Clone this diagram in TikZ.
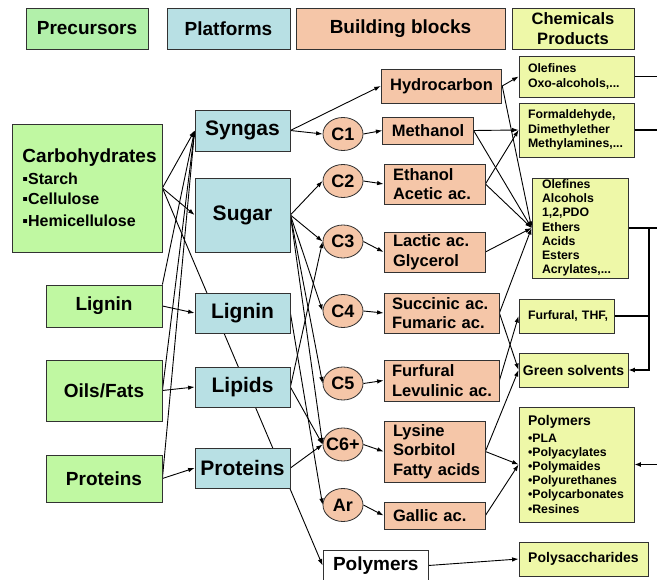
\documentclass[tikz,border=0pt]{standalone}
\usepackage{fontspec}
\setmainfont{Liberation Sans}
\usetikzlibrary{arrows.meta,shapes.geometric,backgrounds}

\definecolor{hdrgreen}{RGB}{178,240,170}
\definecolor{precgreen}{RGB}{192,248,162}
\definecolor{platblue}{RGB}{184,224,228}
\definecolor{blocksalmon}{RGB}{245,198,168}
\definecolor{prodyellow}{RGB}{238,248,168}
\definecolor{boxline}{RGB}{50,50,50}

\newcommand{\fhead}{\fontsize{19}{22}\selectfont\bfseries}
\newcommand{\fchem}{\fontsize{16.5}{20}\selectfont\bfseries}
\newcommand{\fbul}{\fontsize{16}{20}\selectfont\bfseries}
\newcommand{\fplat}{\fontsize{21}{24}\selectfont\bfseries}
\newcommand{\fblock}{\fontsize{16.5}{19.5}\selectfont\bfseries}
\newcommand{\fcirc}{\fontsize{18}{20}\selectfont\bfseries}
\newcommand{\fprod}{\fontsize{12.3}{14.2}\selectfont\bfseries}
\newcommand{\fprodb}{\fontsize{14}{16}\selectfont\bfseries}
\newcommand{\cname}[1]{\makebox[0pt]{#1}}

\tikzset{
	box/.style={draw=boxline, line width=0.8pt, inner sep=1pt},
	hdrbox/.style={box, minimum height=41pt, font=\fhead},
	precbox/.style={box, fill=precgreen, font=\fhead},
	platbox/.style={box, fill=platblue, minimum width=95pt, font=\fplat},
	bbbox/.style={box, fill=blocksalmon, font=\fblock, align=left, inner xsep=9pt},
	bbcirc/.style={ellipse, draw=boxline, line width=0.8pt, fill=blocksalmon, minimum width=40pt, minimum height=33pt, inner sep=0pt, font=\fcirc},
	prodbox/.style={box, fill=prodyellow, font=\fprod, align=left, inner xsep=9pt},
	link/.style={line width=0.9pt, -{Latex[length=6.5pt,width=4.5pt]}},
	rimline/.style={line width=1.4pt},
}

\begin{document}
\begin{tikzpicture}[x=1pt, y=-1pt]
			\useasboundingbox (0,0) rectangle (657,580);
			
			%%%%% HEADERS %%%%%
			\node[hdrbox, fill=hdrgreen, minimum width=122pt] (hprec) at (87, 28.5) {Precursors};
			\node[hdrbox, fill=platblue, minimum width=123pt] (hplat) at (228.5, 28.5) {Platforms};
			\node[hdrbox, fill=blocksalmon, minimum width=209pt] (hbb) at (400.5, 28.5) {Building blocks};
			\node[hdrbox, fill=prodyellow, minimum width=122pt, font=\fchem, align=center] (hchem) at (573, 28.5) {Chemicals\\Products};
			
			%%%%% PRECURSORS %%%%%
			\node[precbox, align=left, text width=129pt, inner xsep=10.5pt, minimum height=128pt] (carb) at (87, 188) {Carbohydrates\\[2pt]\fbul ▪Starch\\\fbul ▪Cellulose\\\fbul ▪Hemicellulose};
			\node[precbox, minimum width=116pt, minimum height=42pt] (lignp) at (104, 306) {Lignin};
			\node[precbox, minimum width=116pt, minimum height=61pt] (oils) at (104, 390.5) {Oils/Fats};
			\node[precbox, minimum width=116pt, minimum height=47pt] (protp) at (104, 478.5) {Proteins};
			
			%%%%% PLATFORMS %%%%%
			\node[platbox, minimum height=41pt] (syngas) at (242.5, 130.5) {Syngas};
			\node[platbox, minimum height=74pt] (sugar) at (242.5, 215) {Sugar};
			\node[platbox, minimum height=40pt] (lignpl) at (242.5, 313) {Lignin};
			\node[platbox, minimum height=40pt] (lipids) at (242.5, 387) {Lipids};
			\node[platbox, minimum height=40pt] (protpl) at (242.5, 468) {Proteins};
			
			%%%%% BUILDING BLOCKS %%%%%
			\node[bbcirc] (c1) at (343, 134) {\cname{C1}};
			\node[bbcirc] (c2) at (343, 181) {\cname{C2}};
			\node[bbcirc] (c3) at (343, 241.5) {\cname{C3}};
			\node[bbcirc] (c4) at (343, 311) {\cname{C4}};
			\node[bbcirc] (c5) at (343, 383.5) {\cname{C5}};
			\node[bbcirc] (c6) at (343, 444.5) {\cname{C6+}};
			\node[bbcirc] (ar) at (343, 505) {\cname{Ar}};
			
			\node[bbbox, align=center, minimum width=115pt, minimum height=34pt] (hydro) at (441.5, 86) {Hydrocarbon};
			\node[bbbox, align=center, minimum width=88pt, minimum height=27pt] (meth) at (428, 130.5) {Methanol};
			\node[bbbox, text width=83pt, minimum height=40pt] (ethan) at (434.5, 184) {Ethanol\\Acetic~ac.};
			\node[bbbox, text width=83pt, minimum height=40pt] (lactic) at (434.5, 252) {Lactic~ac.\\Glycerol};
			\node[bbbox, inner xsep=8pt, text width=99pt, minimum height=40pt] (succ) at (441.5, 313) {Succinic~ac.\\Fumaric~ac.};
			\node[bbbox, inner xsep=8pt, text width=99pt, minimum height=41pt] (furf) at (441.5, 380.5) {Furfural\\Levulinic~ac.};
			\node[bbbox, text width=83pt, minimum height=61pt] (lys) at (434.5, 451.5) {Lysine\\Sorbitol\\Fatty~acids};
			\node[bbbox, text width=83pt, minimum height=27pt] (gallic) at (434.5, 515.5) {Gallic~ac.};
			\node[box, fill=white, font=\fhead, align=left, inner xsep=10pt, text width=85pt, minimum height=31pt] (polym) at (375.5, 565.5) {Polymers};
			
			%%%%% PRODUCTS %%%%%
			\node[prodbox, text width=97pt, minimum height=41pt] (olef) at (576.5, 76.5) {Olefines\\Oxo-alcohols,...};
			\node[prodbox, text width=97pt, minimum height=54pt] (form) at (576.5, 130) {Formaldehyde,\\Dimethylether\\Methylamines,...};
			\node[prodbox, inner xsep=10pt, inner ysep=0pt, text width=76pt, minimum height=100pt] (big) at (580, 228) {Olefines\\Alcohols\\1,2,PDO\\Ethers\\Acids\\Esters\\Acrylates,...};
			\node[prodbox, text width=77pt, minimum height=34pt] (fthf) at (566.5, 316) {Furfural,~THF,};
			\node[prodbox, font=\fprodb, align=center, inner xsep=2pt, minimum width=109pt, minimum height=34pt] (green) at (573.5, 370) {Green~solvents};
			\node[prodbox, text width=97pt, minimum height=115pt] (polyp) at (576.5, 464.5) {{\fprodb Polymers}\\[2pt]•PLA\\•Polyacylates\\•Polymaides\\•Polyurethanes\\•Polycarbonates\\•Resines};
			\node[prodbox, font=\fprodb, align=center, inner xsep=2pt, minimum width=129pt, minimum height=34pt] (polys) at (583.5, 559) {Polysaccharides};
			
			\coordinate (outA) at (657, 76.5);
			\coordinate (outB) at (657, 130);
			\coordinate (outC) at (657, 228);
			\coordinate (bus) at (649, 228);
			\coordinate (inP) at (657, 464.5);
			
			%%%%% CONNECTORS %%%%%
			\begin{pgfonlayer}{background}
			\draw[link] (carb.east) -- (syngas.west);
			\draw[link] (carb.east) -- (sugar.west);
			\draw[link] (carb.east) -- (polym.west);
			\draw[link] (lignp.north east) -- (syngas.west);
			\draw[link] (lignp.east) -- (lignpl.west);
			\draw[link] (oils.east) -- (syngas.west);
			\draw[link] (oils.east) -- (lipids.west);
			\draw[link] (protp.east) -- (syngas.west);
			\draw[link] (protp.east) -- (protpl.west);
			
			\draw[link] (syngas.east) -- (hydro.west);
			\draw[link] (syngas.east) -- (c1.west);
			\draw[link] (sugar.east) -- (c2.west);
			\draw[link] (sugar.east) -- (c3.west);
			\draw[link] (sugar.east) -- (c4.west);
			\draw[link] (sugar.east) -- (c5.west);
			\draw[link] (sugar.east) -- (c6.west);
			\draw[link] (lignpl.east) -- (ar.west);
			\draw[link] (lipids.east) -- (c3.west);
			\draw[link] (lipids.east) -- (c6.west);
			\draw[link] (protpl.east) -- (c6.west);
			
			\draw[link] (c1.east) -- (meth.west);
			\draw[link] (c2.east) -- (ethan.west);
			\draw[link] (c3.east) -- (lactic.west);
			\draw[link] (c4.east) -- (succ.west);
			\draw[link] (c5.east) -- (furf.west);
			\draw[link] (c6.east) -- (lys.west);
			\draw[link] (ar.east) -- (gallic.west);
			
			\draw[link] (hydro.east) -- (olef.west);
			\draw[link] (hydro.east) -- (big.west);
			\draw[link] (meth.east) -- (form.west);
			\draw[link] (meth.east) -- (big.west);
			\draw[link] (ethan.east) -- (form.west);
			\draw[link] (ethan.east) -- (big.west);
			\draw[link] (lactic.east) -- (big.west);
			\draw[link] (succ.east) -- (big.west);
			\draw[link] (succ.east) -- (green.west);
			\draw[link] (furf.east) -- (fthf.west);
			\draw[link] (lys.east) -- (green.west);
			\draw[link] (lys.east) -- (polyp.west);
			\draw[link] (gallic.east) -- (polyp.west);
			\draw[link] (polym.east) -- (polys.west);
			
			\draw[rimline] (olef.east) -- (outA);
			\draw[rimline] (form.east) -- (outB);
			\draw[rimline] (big.east) -- (outC);
			\draw[rimline] (fthf.east) -- (fthf.east -| bus);
			\draw[rimline, -{Latex[length=6.5pt,width=5pt]}] (bus) |- (green.east);
			\draw[rimline, -{Latex[length=6.5pt,width=5pt]}] (inP) -- (polyp.east);
			\end{pgfonlayer}
			
			%%%%% END %%%%%
\end{tikzpicture}
\end{document}
